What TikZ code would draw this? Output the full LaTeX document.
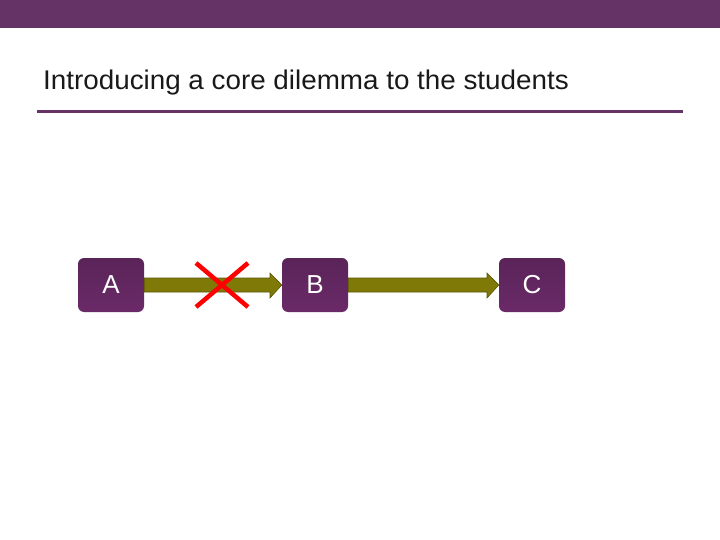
\documentclass[tikz,border=0pt]{standalone}
\usepackage{fontspec}
\setmainfont{Liberation Sans}
\begin{document}
\begin{tikzpicture}[x=1pt,y=-1pt,
  box/.style={draw=none,rounded corners=6pt,minimum width=66pt,minimum height=54pt,
    top color=boxpurple!85!black,bottom color=boxpurple,inner sep=0pt,text=white,font=\fontsize{26}{28}\selectfont},
  fatarrow/.style={fill=olivearrow,draw=olivearrow!70!black,line width=0.6pt},
  cross/.style={draw=red,line width=4.5pt}]
\definecolor{barpurple}{HTML}{663366}
\definecolor{boxpurple}{HTML}{6A2A68}
\definecolor{olivearrow}{HTML}{7F7A08}
\useasboundingbox (0,0) rectangle (720,540);
\fill[barpurple] (0,0) rectangle (720,28);
\node[anchor=base west,inner sep=0pt,font=\fontsize{27}{29}\selectfont,text=black!90] (title) at (43,90) {\scalebox{1.03}[1]{Introducing a core dilemma to the students}};
\draw[barpurple,line width=3pt] (37,111.5) -- (683,111.5);
\node[box] (A) at (111,285) {A};
\node[box] (B) at (315,285) {B};
\node[box] (C) at (532,285) {C};
\path[fatarrow] (A.east |- 0,278) -- (270,278) -- (270,273) -- (B.west |- 0,285) -- (270,298) -- (270,292) -- (A.east |- 0,292) -- cycle;
\path[fatarrow] (B.east |- 0,278) -- (487,278) -- (487,273) -- (C.west |- 0,285) -- (487,298) -- (487,292) -- (B.east |- 0,292) -- cycle;
\coordinate (x1) at (196,263);
\coordinate (x2) at (248,307);
\coordinate (x3) at (248,263);
\coordinate (x4) at (196,307);
\draw[cross] (x1) -- (x2);
\draw[cross] (x3) -- (x4);
\end{tikzpicture}
\end{document}
